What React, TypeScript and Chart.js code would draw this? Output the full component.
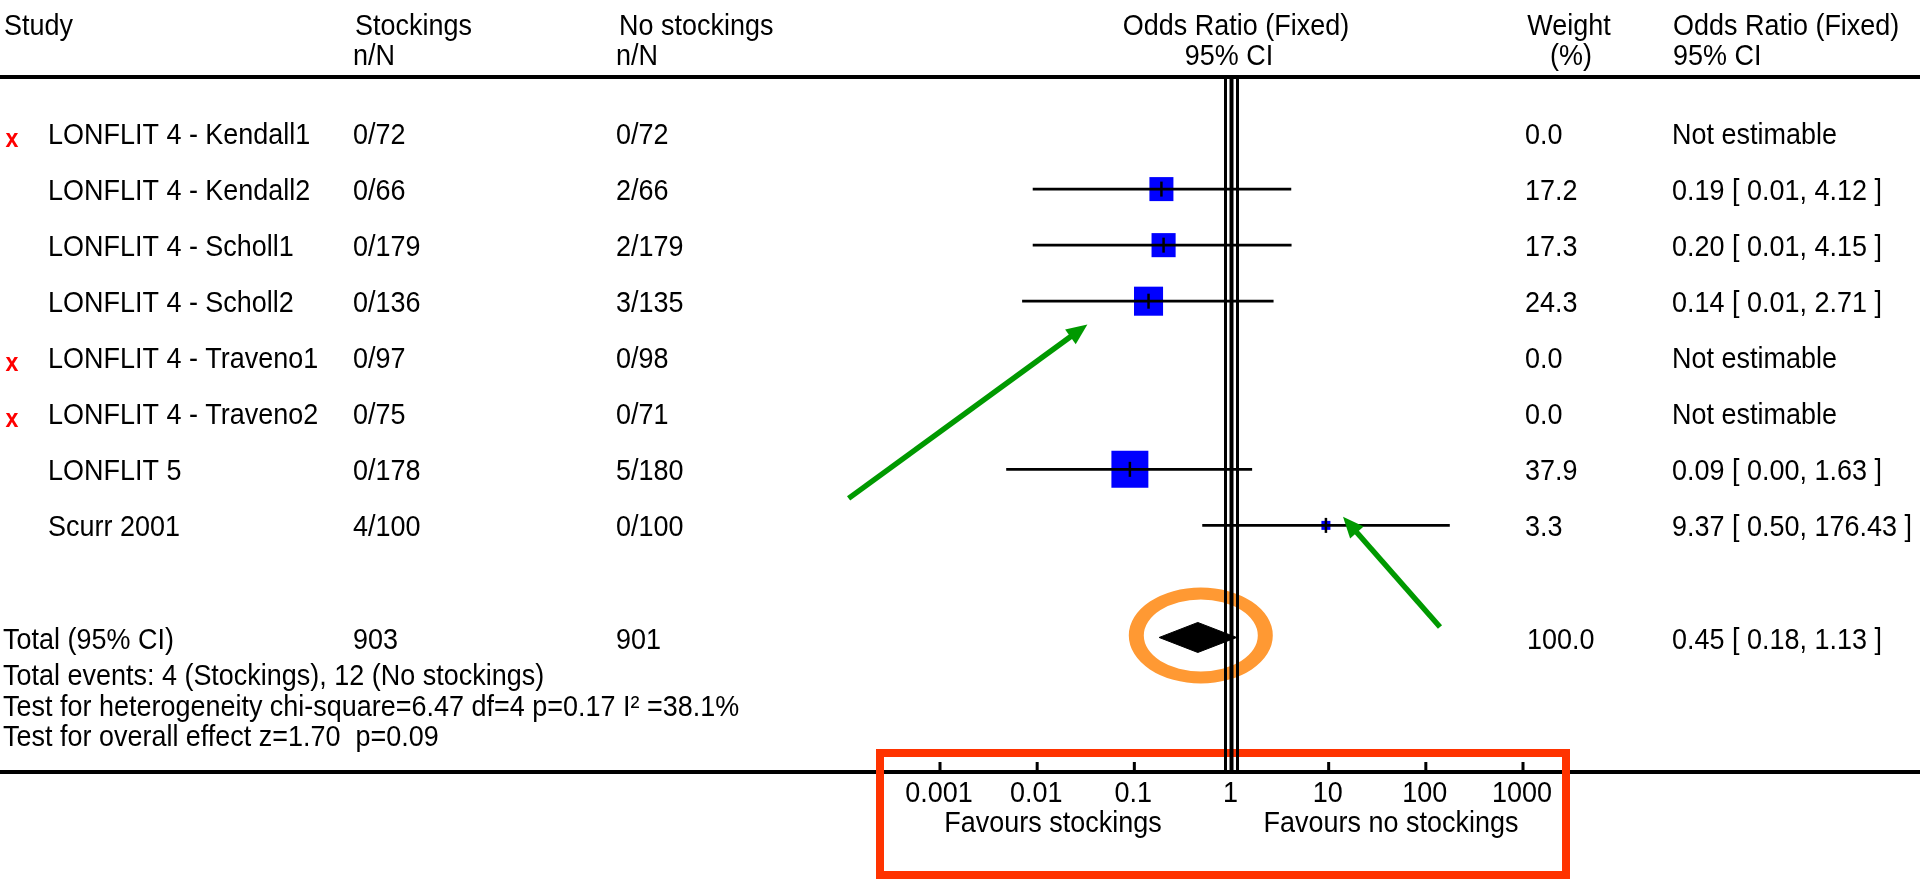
import React, { useEffect, useRef } from 'react';
import { Chart, registerables } from 'chart.js';

Chart.register(...registerables);

// ---------------- data ----------------
const STUDIES = [
  'LONFLIT 4 - Kendall1',
  'LONFLIT 4 - Kendall2',
  'LONFLIT 4 - Scholl1',
  'LONFLIT 4 - Scholl2',
  'LONFLIT 4 - Traveno1',
  'LONFLIT 4 - Traveno2',
  'LONFLIT 5',
  'Scurr 2001',
];
const STOCKINGS = ['0/72', '0/66', '0/179', '0/136', '0/97', '0/75', '0/178', '4/100'];
const NO_STOCKINGS = ['0/72', '2/66', '2/179', '3/135', '0/98', '0/71', '5/180', '0/100'];
const WEIGHTS = [0.0, 17.2, 17.3, 24.3, 0.0, 0.0, 37.9, 3.3];
const ODDS = [null, 0.19, 0.2, 0.14, null, null, 0.09, 9.37];
const CI_LOW = [null, 0.009, 0.009, 0.007, null, null, 0.0048, 0.5];
const CI_HIGH = [null, 4.12, 4.15, 2.71, null, null, 1.63, 176.43];
const OR_LABELS = [
  'Not estimable',
  '0.19 [ 0.01, 4.12 ]',
  '0.20 [ 0.01, 4.15 ]',
  '0.14 [ 0.01, 2.71 ]',
  'Not estimable',
  'Not estimable',
  '0.09 [ 0.00, 1.63 ]',
  '9.37 [ 0.50, 176.43 ]',
];

const TOTAL_OR = 0.45;
const TOTAL_LOW = 0.18;
const TOTAL_HIGH = 1.13;
const TOTAL_STOCKINGS = '903';
const TOTAL_NO_STOCKINGS = '901';
const TOTAL_WEIGHT = '100.0';
const TOTAL_LABEL = '0.45 [ 0.18, 1.13 ]';
const TOTAL_ROW = 9;

const FOOTER_LINES = [
  'Total events: 4 (Stockings), 12 (No stockings)',
  'Test for heterogeneity chi-square=6.47 df=4 p=0.17 I\u00B2 =38.1%',
  'Test for overall effect z=1.70  p=0.09',
];

const TICK_VALUES = [0.001, 0.01, 0.1, 1, 10, 100, 1000];
const TICK_LABELS = ['0.001', '0.01', '0.1', '1', '10', '100', '1000'];

// ---------------- styles ----------------
const W = 1920;
const H = 883;
const FONT = '"Liberation Sans", Arial, sans-serif';
const FS = 29;
const KX = 0.93;
const BLUE = '#0000ff';
const GREEN = '#009900';
const ORANGE = '#ff9933';
const RED = '#ff3300';

function txt(
  ctx: CanvasRenderingContext2D,
  s: string,
  x: number,
  y: number,
  align: CanvasTextAlign = 'left',
  color = '#000',
  size = FS,
  bold = false,
) {
  ctx.save();
  ctx.font = `${bold ? 'bold ' : ''}${size}px ${FONT}`;
  ctx.fillStyle = color;
  ctx.textBaseline = 'alphabetic';
  ctx.textAlign = align;
  ctx.translate(x, y);
  ctx.scale(KX, 1);
  ctx.fillText(s, 0, 0);
  ctx.restore();
}

function arrow(ctx: CanvasRenderingContext2D, x0: number, y0: number, x1: number, y1: number) {
  const a = Math.atan2(y1 - y0, x1 - x0);
  const hl = 21;
  const hw = 9;
  const c = Math.cos(a);
  const s = Math.sin(a);
  const bx = x1 - hl * c;
  const by = y1 - hl * s;
  ctx.save();
  ctx.strokeStyle = GREEN;
  ctx.fillStyle = GREEN;
  ctx.lineWidth = 5.5;
  ctx.beginPath();
  ctx.moveTo(x0, y0);
  ctx.lineTo(bx + 3 * c, by + 3 * s);
  ctx.stroke();
  ctx.beginPath();
  ctx.moveTo(x1, y1);
  ctx.lineTo(bx + hw * s, by - hw * c);
  ctx.lineTo(bx - hw * s, by + hw * c);
  ctx.closePath();
  ctx.fill();
  ctx.restore();
}

const forestPlugin = {
  id: 'forestPlugin',
  beforeDraw(chart: any) {
    const ctx = chart.ctx;
    ctx.save();
    ctx.fillStyle = '#fff';
    ctx.fillRect(0, 0, W, H);
    ctx.restore();
  },
  beforeDatasetsDraw(chart: any) {
    const ctx = chart.ctx as CanvasRenderingContext2D;
    const xs = chart.scales.x;
    const ys = chart.scales.y;
    // orange ring around the pooled estimate
    const ecx = xs.getPixelForValue(TOTAL_OR) + 3;
    const ecy = ys.getPixelForValue(TOTAL_ROW) - 2;
    ctx.save();
    ctx.fillStyle = ORANGE;
    ctx.beginPath();
    ctx.ellipse(ecx, ecy, 72, 48, 0, 0, Math.PI * 2);
    ctx.moveTo(ecx + 57, ecy);
    ctx.ellipse(ecx, ecy, 57, 36, 0, 0, Math.PI * 2);
    ctx.fill('evenodd');
    ctx.restore();

    // header line and bottom axis line
    ctx.save();
    ctx.fillStyle = '#000';
    ctx.fillRect(0, 75, W, 4);
    ctx.fillRect(0, 770, W, 4);
    ctx.restore();

    // red highlight box around the axis
    ctx.save();
    ctx.strokeStyle = RED;
    ctx.lineWidth = 8;
    ctx.strokeRect(880, 753, 686, 122);
    ctx.restore();

    // triple null line at OR = 1
    const x1 = xs.getPixelForValue(1);
    ctx.save();
    ctx.fillStyle = '#000';
    ctx.fillRect(x1 - 7.5, 79, 3, 691);
    ctx.fillRect(x1 - 2, 79, 4, 691);
    ctx.fillRect(x1 + 4.5, 79, 3, 691);
    ctx.restore();
  },
  afterDraw(chart: any) {
    const ctx = chart.ctx as CanvasRenderingContext2D;
    const xs = chart.scales.x;
    const ys = chart.scales.y;

    // headers
    txt(ctx, 'Study', 4, 34.5);
    txt(ctx, 'Stockings', 355, 34.5);
    txt(ctx, 'n/N', 353, 65);
    txt(ctx, 'No stockings', 619, 34.5);
    txt(ctx, 'n/N', 616, 65);
    txt(ctx, 'Odds Ratio (Fixed)', 1236, 34.5, 'center');
    txt(ctx, '95% CI', 1229, 65, 'center');
    txt(ctx, 'Weight', 1569, 34.5, 'center');
    txt(ctx, '(%)', 1571, 65, 'center');
    txt(ctx, 'Odds Ratio (Fixed)', 1673, 34.5);
    txt(ctx, '95% CI', 1673, 65);

    // study rows
    STUDIES.forEach((name, i) => {
      const y = ys.getPixelForValue(i) + 10.5;
      if (ODDS[i] == null) txt(ctx, 'x', 12, y + 3, 'center', '#ff0000', 25, true);
      txt(ctx, name, 48, y);
      txt(ctx, STOCKINGS[i], 353, y);
      txt(ctx, NO_STOCKINGS[i], 616, y);
      txt(ctx, WEIGHTS[i].toFixed(1), 1525, y);
      txt(ctx, OR_LABELS[i], 1672, y);
    });

    // total row
    const ty = ys.getPixelForValue(TOTAL_ROW) + 12;
    txt(ctx, 'Total (95% CI)', 3, ty);
    txt(ctx, TOTAL_STOCKINGS, 353, ty);
    txt(ctx, TOTAL_NO_STOCKINGS, 616, ty);
    txt(ctx, TOTAL_WEIGHT, 1527, ty);
    txt(ctx, TOTAL_LABEL, 1672, ty);
    FOOTER_LINES.forEach((line, k) => txt(ctx, line, 3, 685 + k * 30.5));

    // axis ticks and labels
    ctx.save();
    ctx.fillStyle = '#000';
    TICK_VALUES.forEach((v, k) => {
      const px = xs.getPixelForValue(v);
      ctx.fillRect(px - 1.5, 762, 3, 8);
      txt(ctx, TICK_LABELS[k], px - 1, 802, 'center');
    });
    ctx.restore();
    txt(ctx, 'Favours stockings', 1053, 832, 'center');
    txt(ctx, 'Favours no stockings', 1391, 832, 'center');

    // green arrows
    arrow(ctx, 848.6, 498.4, 1087.4, 324.5);
    arrow(ctx, 1440, 627, 1343, 516.7);
  },
};

export default function App() {
  const ref = useRef<HTMLCanvasElement | null>(null);

  useEffect(() => {
    if (!ref.current) return;
    const squares: { x: number; y: number }[] = [];
    const radii: number[] = [];
    const ciSets: any[] = [];
    ODDS.forEach((v, i) => {
      if (v == null) return;
      squares.push({ x: v, y: i });
      radii.push((6.44 * Math.sqrt(WEIGHTS[i]) - 2.7) / Math.SQRT2);
      ciSets.push({
        data: [
          { x: CI_LOW[i] as number, y: i },
          { x: CI_HIGH[i] as number, y: i },
        ],
        showLine: true,
        borderColor: '#000',
        borderWidth: 2.8,
        pointRadius: 0,
        order: 2,
        clip: false,
      });
    });
    const h = 15 / 56.05;
    const chart = new Chart(ref.current, {
      type: 'scatter',
      data: {
        datasets: [
          {
            data: squares,
            pointStyle: 'rect',
            pointRadius: radii,
            pointBackgroundColor: BLUE,
            pointBorderWidth: 0,
            pointBorderColor: BLUE,
            order: 3,
            clip: false,
          } as any,
          ...ciSets,
          {
            data: squares,
            pointStyle: 'line',
            pointRotation: 90,
            pointRadius: 7.5,
            pointBorderWidth: 2.5,
            pointBorderColor: '#000',
            order: 1,
            clip: false,
          } as any,
          {
            data: [
              { x: TOTAL_LOW, y: TOTAL_ROW },
              { x: TOTAL_OR, y: TOTAL_ROW - h },
              { x: TOTAL_HIGH, y: TOTAL_ROW },
              { x: TOTAL_OR, y: TOTAL_ROW + h },
              { x: TOTAL_LOW, y: TOTAL_ROW },
            ],
            showLine: true,
            fill: 'shape',
            backgroundColor: '#000',
            borderColor: '#000',
            borderWidth: 1,
            pointRadius: 0,
            tension: 0,
            order: 2,
            clip: false,
          } as any,
        ],
      },
      options: {
        animation: false,
        responsive: false,
        devicePixelRatio: 1,
        events: [],
        layout: { padding: { left: 940, right: 397, top: 77, bottom: 111 } },
        plugins: { legend: { display: false }, tooltip: { enabled: false } },
        scales: {
          x: { type: 'logarithmic', min: 0.001, max: 1000, display: false },
          y: { type: 'linear', min: -1, max: 11.4, reverse: true, display: false },
        },
      },
      plugins: [forestPlugin],
    });
    return () => chart.destroy();
  }, []);

  return (
    <div style={{ position: 'fixed', left: 0, top: 0, width: W, height: H, background: '#fff', overflow: 'hidden' }}>
      <canvas ref={ref} width={W} height={H} style={{ display: 'block', width: W, height: H }} />
    </div>
  );
}
